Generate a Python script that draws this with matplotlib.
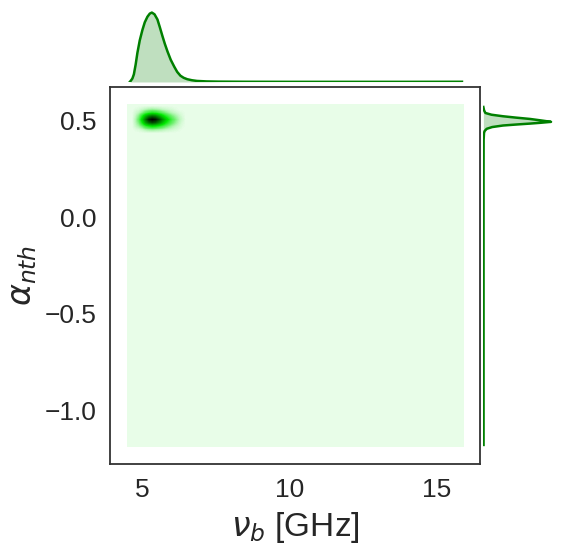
import numpy as np
import matplotlib
matplotlib.use("Agg")
import matplotlib.pyplot as plt
from matplotlib.colors import LinearSegmentedColormap

# histogram grid (100 x 100 bins over the sampled prior box)
x_min, x_max = 4.49, 15.9
y_min, y_max = -1.19, 0.587
n_bins = 100

# non-empty bins around the posterior peak, rows from y-bin 92 upward, cols from x-bin 2
blob_row0, blob_col0 = 92, 2
blob = [
    [0.01, 0.02, 0.04, 0.07, 0.09, 0.10, 0.09, 0.08, 0.07, 0.05, 0.04, 0.03, 0.02, 0.01, 0.00],
    [0.04, 0.08, 0.15, 0.25, 0.32, 0.36, 0.34, 0.29, 0.23, 0.17, 0.12, 0.08, 0.05, 0.03, 0.01],
    [0.06, 0.14, 0.32, 0.55, 0.72, 0.80, 0.75, 0.63, 0.48, 0.34, 0.24, 0.16, 0.10, 0.05, 0.02],
    [0.07, 0.18, 0.42, 0.70, 0.92, 1.00, 0.95, 0.82, 0.63, 0.46, 0.32, 0.21, 0.13, 0.07, 0.03],
    [0.05, 0.13, 0.30, 0.50, 0.66, 0.73, 0.68, 0.56, 0.42, 0.30, 0.21, 0.14, 0.09, 0.05, 0.02],
    [0.03, 0.06, 0.12, 0.20, 0.26, 0.30, 0.28, 0.23, 0.18, 0.13, 0.09, 0.06, 0.04, 0.02, 0.01],
    [0.01, 0.02, 0.04, 0.06, 0.08, 0.09, 0.08, 0.07, 0.05, 0.04, 0.03, 0.02, 0.01, 0.00, 0.00],
]

# marginal densities (relative, peak = 1)
nu_x = [4.59, 4.63, 4.68, 4.73, 4.79, 4.85, 4.93, 5.02, 5.10, 5.19, 5.27, 5.34, 5.43, 5.53, 5.61,
        5.70, 5.78, 5.87, 5.98, 6.10, 6.20, 6.31, 6.42, 6.54, 6.70, 6.87, 7.2, 7.6, 8.5, 10.0, 12.0, 14.0, 15.86]
nu_dens = [0.0, 0.02, 0.05, 0.11, 0.25, 0.42, 0.60, 0.75, 0.86, 0.94, 0.985, 1.0, 0.975, 0.90, 0.79,
           0.66, 0.55, 0.44, 0.32, 0.22, 0.145, 0.09, 0.06, 0.04, 0.025, 0.015, 0.008, 0.005, 0.003, 0.002, 0.002, 0.002, 0.003]

alpha_y = [0.572, 0.555, 0.541, 0.532, 0.524, 0.517, 0.510, 0.502, 0.495, 0.490, 0.486, 0.481, 0.476,
           0.468, 0.459, 0.448, 0.438, 0.40, 0.2, -0.2, -0.6, -1.0, -1.18]
alpha_dens = [0.0, 0.01, 0.03, 0.12, 0.29, 0.48, 0.69, 0.86, 1.0, 0.84, 0.69, 0.48, 0.29,
              0.13, 0.05, 0.02, 0.01, 0.004, 0.003, 0.003, 0.003, 0.003, 0.003]

plt.rcParams["font.family"] = ["Liberation Sans", "DejaVu Sans"]
plt.rcParams["mathtext.fontset"] = "dejavusans"

counts = np.zeros((n_bins, n_bins))
blob = np.array(blob)
counts[blob_row0:blob_row0 + blob.shape[0], blob_col0:blob_col0 + blob.shape[1]] = blob

cmap = LinearSegmentedColormap.from_list(
    "greens", [(0, "#e8fde8"), (0.05, "#c4f8c4"), (0.15, "#70f070"), (0.35, "#00ea00"),
               (0.7, "#007400"), (1, "#000000")])

fig = plt.figure(figsize=(5.64, 5.48), dpi=100)
ax = fig.add_axes([0.195, 0.1533, 0.656, 0.688])
ax_top = fig.add_axes([0.195, 0.8504, 0.656, 0.133], sharex=ax)
ax_right = fig.add_axes([0.857, 0.1533, 0.126, 0.688], sharey=ax)

ax.imshow(counts, origin="lower", extent=[x_min, x_max, y_min, y_max], aspect="auto",
          cmap=cmap, vmin=0, vmax=1, interpolation="bilinear")
pad_x = 0.05 * (x_max - x_min)
pad_y = 0.05 * (y_max - y_min)
ax.set_xlim(x_min - pad_x, x_max + pad_x)
ax.set_ylim(y_min - pad_y, y_max + pad_y)
ax.set_xticks([5, 10, 15])
ax.set_yticks([0.5, 0.0, -0.5, -1.0])
ax.tick_params(length=0, labelsize=19, colors="#262626")
ax.tick_params(axis="x", pad=10)
ax.tick_params(axis="y", pad=10)
for s in ax.spines.values():
    s.set_color("#333333")
    s.set_linewidth(1.3)
ax.set_xlabel(r"$\nu_b$ [GHz]", fontsize=24, color="#262626", labelpad=6)
ax.set_ylabel(r"$\alpha_{nth}$", fontsize=24, color="#262626", labelpad=4)

ax_top.plot(nu_x, nu_dens, color="green", lw=1.8)
ax_top.fill_between(nu_x, nu_dens, color="green", alpha=0.25, lw=0)
ax_top.set_ylim(0, 1.05)
ax_right.plot(alpha_dens, alpha_y, color="green", lw=1.8)
ax_right.fill_betweenx(alpha_y, alpha_dens, color="green", alpha=0.25, lw=0)
ax_right.set_xlim(0, 1.05)

for a in (ax_top, ax_right):
    a.axis("off")

fig.savefig("out.png", dpi=100)
